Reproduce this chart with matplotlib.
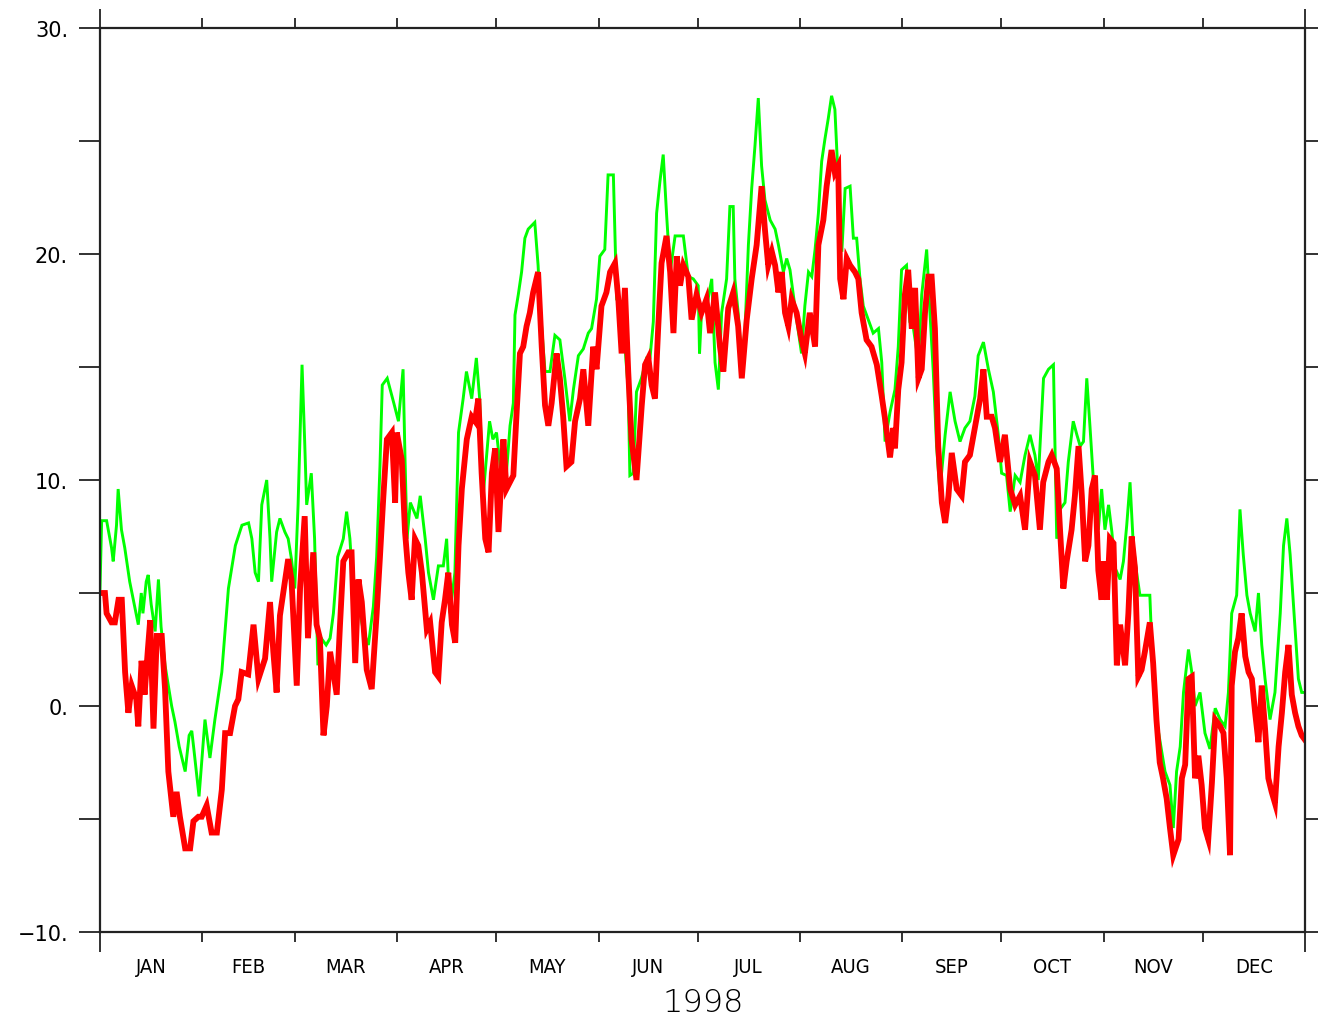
import matplotlib
matplotlib.use("Agg")
import matplotlib.pyplot as plt

# ---------------- data ----------------
month_names = ["JAN", "FEB", "MAR", "APR", "MAY", "JUN",
               "JUL", "AUG", "SEP", "OCT", "NOV", "DEC"]
month_starts = [0, 31, 59, 90, 120, 151, 181, 212, 243, 273, 304, 334, 365]
year_label = "1998"
ytick_values = [-10, -5, 0, 5, 10, 15, 20, 25, 30]
ytick_labels = ["\u221210.", "", "0.", "", "10.", "", "20.", "", "30."]

green_days = [0, 0.5, 2, 3.5, 4, 5, 5.5, 6.5, 7.5, 9, 11.6, 12.5, 13, 14, 14.6, 15.5,
              16.7, 17.7, 18.5, 19.7, 21.7, 22.7, 24, 25.8, 27, 27.8, 28.5, 30, 31.8,
              33.3, 34.8, 36.9, 38.9, 41, 43, 45, 46, 47, 48, 49, 50.5, 51.5, 52, 53.5,
              54.5, 56, 57, 58, 59, 60, 61.2, 62, 62.6, 64, 65, 66, 67, 68.5, 69.7,
              70.7, 72, 73.7, 74.7, 75.7, 76.8, 78, 79.8, 81.3, 82.8, 83.8, 84.8, 85.5,
              87, 89, 90.4, 91.8, 92.4, 93, 94, 96, 97, 98.5, 99.5, 101, 102.5, 104,
              105, 106, 107.5, 108.6, 110, 111, 112.6, 114, 115, 116, 117, 118, 119,
              120.1, 122.1, 123.1, 124.2, 125.2, 125.7, 126.7, 127.7, 128.7, 129.7,
              131.7, 132.7, 133.3, 134.8, 136.3, 137.8, 139.3, 140.8, 142.3, 143.4,
              144.9, 146.4, 147.9, 148.9, 150.4, 151.4, 152.9, 153.9, 155.5, 156,
              156.5, 158, 159, 160, 160.5, 161.5, 162.5, 164, 165.6, 166.6, 167.6,
              168.6, 169.6, 170.6, 171.6, 172.7, 174.2, 175.7, 176.7, 178.2, 179.7,
              181.2, 181.6, 182.2, 183.8, 185.3, 186.3, 187.3, 188.3, 189.8, 190.8,
              191.8, 192.3, 193.3, 194.4, 195.4, 196.4, 197.4, 198.4, 199.4, 200.4,
              201.4, 203, 204.5, 205.5, 207, 208, 209, 210, 211, 212.5, 213.5, 214.6,
              215.6, 216.6, 217.6, 218.6, 219.6, 220.6, 221.6, 222.6, 223.6, 224.7,
              225.7, 227.2, 228.2, 229.2, 230.2, 231.2, 232.7, 234.2, 235.8, 236.8,
              237.8, 239.3, 240.8, 241.8, 242.8, 244.3, 245.3, 246.4, 247.9, 248.9,
              250.4, 251.4, 252.4, 253.4, 254.4, 256, 257.5, 259, 260.5, 262, 263.5,
              265, 266, 267.6, 269.1, 270.6, 272.1, 273.1, 274.6, 275.7, 277.2, 278.7,
              280.2, 281.7, 283.2, 284.2, 285.8, 287.3, 288.8, 289.8, 290.8, 292.3,
              293.3, 294.8, 295.9, 296.9, 297.9, 298.9, 299.9, 300.9, 302.4, 303.4,
              304.4, 305.5, 306.5, 307.5, 309, 310, 311, 312, 313, 314, 315, 316.5, 318,
              319, 320, 321.6, 322.6, 324.1, 325.1, 326.1, 327.2, 328.2, 329.7, 330.7,
              331.7, 333.2, 334.7, 336.2, 337.8, 339.3, 340.8, 341.8, 342.8, 344.3,
              345.3, 346.3, 347.4, 348.4, 349.9, 350.9, 351.9, 352.9, 354.4, 355.9,
              357.5, 358.5, 359.5, 360.5, 362, 363, 364, 365]
green_vals = [5.2, 8.2, 8.2, 7.0, 6.4, 8.0, 9.6, 7.8, 7.0, 5.5, 3.6, 5.0, 4.1, 5.5, 5.8, 4.5,
              3.3, 5.6, 3.5, 1.8, 0.0, -0.7, -1.8, -2.9, -1.3, -1.1, -2.0, -4.0, -0.6,
              -2.3, -0.6, 1.5, 5.2, 7.1, 8.0, 8.1, 7.4, 5.9, 5.5, 8.9, 10.0, 7.4, 5.5, 7.7,
              8.3, 7.7, 7.4, 6.5, 5.2, 8.9, 15.1, 11.7, 8.9, 10.3, 7.4, 1.8, 3.0, 2.7, 3.0,
              4.1, 6.6, 7.4, 8.6, 7.4, 4.9, 4.7, 3.3, 2.7, 4.4, 6.6, 10.6, 14.2,
              14.5, 13.4, 12.6, 14.9, 10.9, 7.4, 9.0, 8.3, 9.3, 7.4, 5.9, 4.7, 6.2, 6.2,
              7.4, 4.1, 5.9, 12.1, 13.6, 14.8, 13.6, 15.4, 13.6, 9.2, 10.9, 12.6, 11.8,
              12.1, 9.5, 10.3, 12.4, 13.4, 17.3, 18.2, 19.2, 20.7, 21.1,
              21.4, 19.5, 17.7, 14.8, 14.8, 16.4, 16.2, 14.5, 12.6, 14.0,
              15.5, 15.8, 16.5, 16.7, 18.0, 19.9, 20.2, 23.5, 23.5, 20.7,
              18.0, 17.9, 15.9, 14.0, 10.2, 10.3, 13.9, 14.5, 15.4, 15.4, 17.0,
              21.8, 23.2, 24.4, 21.8, 19.2, 20.8, 20.8, 20.8, 19.0, 18.9,
              18.6, 15.6, 17.4, 17.7, 18.9, 15.2, 14.0, 17.4, 18.9, 22.1,
              22.1, 18.9, 17.4, 15.2, 16.7, 20.4, 22.9, 24.8, 26.9, 23.9,
              22.4, 21.5, 21.1, 20.4, 19.2, 19.8, 19.3, 18.2, 17.1, 15.6, 17.7, 19.2,
              19.0, 20.2, 21.8, 24.1, 25.1, 26.0, 27.0, 26.4, 23.3, 20.1,
              22.9, 23.0, 20.7, 20.7, 18.9, 17.7, 17.1, 16.5, 16.7, 15.2,
              11.7, 13.0, 14.0, 15.9, 19.3, 19.5, 17.0, 16.7, 15.2, 18.2,
              20.2, 17.4, 14.8, 11.5, 9.5, 12.0, 13.9, 12.6, 11.7, 12.3, 12.6,
              13.7, 15.5, 16.1, 14.9, 13.9, 12.0, 10.3, 10.2, 8.6, 10.2, 9.9,
              11.1, 12.0, 11.1, 10.0, 14.5, 14.9, 15.1, 7.4, 8.7, 9.0,
              10.8, 12.6, 12.0, 11.5, 11.7, 14.5, 12.3, 10.0, 7.8, 9.6,
              7.8, 8.9, 7.7, 6.1, 5.6, 6.4, 8.0, 9.9, 7.1, 5.9, 4.9, 4.9, 4.9,
              1.2, -0.6, -2.0, -2.9, -3.5, -5.4, -2.9, -1.8, 0.6, 2.5, 1.5,
              0.0, 0.6, -1.2, -1.9, -0.1, -0.6, -0.9, 0.6, 4.1, 4.9,
              8.7, 6.7, 4.9, 4.1, 3.3, 5.0, 2.7, 1.2, -0.6, 0.6,
              4.1, 7.1, 8.3, 6.7, 3.4, 1.2, 0.6, 0.6]

red_days = [0, 1.5, 2, 3.5, 4.5, 5.6, 6.6, 7.6, 8.6, 9.6, 11, 11.6, 12.6, 13.5, 14.5,
            15.2, 16.2, 17.2, 18.7, 19.7, 20.7, 22.2, 23.2, 24.2, 25.8, 27.3, 28.3,
            29.8, 30.8, 32.3, 33.8, 35.4, 36.9, 37.9, 39.4, 40.9, 41.9, 42.9, 44.9,
            46.5, 48, 50, 51.5, 52.5, 53.5, 54.5, 55.5, 57, 58, 59.6, 60.6, 62, 63,
            64.6, 65.6, 66.6, 67.7, 68.7, 69.7, 71.7, 72.7, 73.7, 75.2, 76.2, 77.3,
            78.3, 79.3, 80.8, 82.3, 83.8, 84.8, 85.8, 86.9, 88.4, 89.4, 89.9, 91.4,
            92.4, 93.4, 94.4, 95.4, 96.4, 97.5, 99, 100, 101.5, 102.5, 103.5, 104.5,
            105.5, 106.6, 107.6, 108.6, 109.6, 111.1, 112.6, 113.6, 114.6, 115.6,
            116.7, 117.7, 118.7, 119.7, 120.7, 122.2, 123.1, 125.2, 126.2, 127.2,
            128.2, 129.2, 130.2, 131.2, 132.7, 133.8, 134.8, 135.8, 136.8, 138.3,
            139.3, 140.3, 141.3, 142.8, 143.9, 145.4, 146.4, 147.9, 149.4, 150.4,
            151.9, 153.4, 154.5, 156, 157, 158, 159, 160, 161, 162.5, 164.1, 165.1,
            166.1, 167.1, 168.1, 169.1, 170.1, 171.6, 172.7, 173.7, 174.7, 175.7,
            176.7, 178.2, 179.2, 180.7, 182.2, 183.7, 184.8, 186.3, 187.8, 188.8,
            190.3, 191.8, 193.3, 194.4, 195.9, 197.4, 198.9, 200.4, 201.4, 202.4,
            203.5, 204.5, 205.5, 206.5, 207.5, 208.5, 209.5, 211, 212.5, 213.5, 215,
            216.6, 217.6, 219.1, 220.1, 221.6, 222.6, 223.6, 224.2, 225.2, 226.2,
            227.2, 228.7, 229.7, 230.7, 232.2, 233.7, 235.3, 236.8, 237.8, 239.3,
            240.3, 240.8, 241.8, 242.8, 243.8, 244.8, 245.9, 246.9, 247.9, 248.9,
            249.9, 250.9, 251.9, 252.9, 253.9, 255, 256, 257, 258, 259.5, 261, 262,
            263.5, 265, 266.6, 267.6, 268.6, 270.1, 271.1, 272.6, 274.1, 275.7,
            277.2, 278.7, 280.2, 281.7, 283.2, 284.7, 285.7, 287.3, 288.3, 289.8,
            290.8, 291.8, 292.8, 294.3, 295.3, 296.4, 297.4, 298.4, 299.4, 300.4,
            301.4, 302.4, 303.4, 303.9, 305, 305.9, 307, 308, 309, 310.5, 311.5,
            312.5, 313.5, 314.5, 315.5, 316.5, 318, 319, 320, 321, 322, 323.1, 324.1,
            325.1, 326.7, 327.7, 328.7, 329.7, 330.7, 331.7, 332.7, 333.7, 334.7,
            335.7, 336.8, 337.8, 339.3, 340.3, 341.3, 342.3, 342.8, 343.8, 344.8,
            345.8, 346.9, 347.9, 348.9, 349.9, 350.9, 351.9, 352.9, 353.9, 354.9,
            355.9, 357, 358, 359, 360, 361, 362, 363, 364, 365]
red_vals = [5.0, 5.0, 4.1, 3.7, 3.7, 4.7, 4.7, 1.5, -0.3, 0.9, 0.3, -0.9, 2.0, 0.5, 2.5,
            3.8, -1.0, 3.1, 3.1, 0.75, -2.9, -4.9, -3.8, -4.9, -6.3, -6.3, -5.1,
            -4.9, -4.9, -4.4, -5.6, -5.6, -3.7, -1.2, -1.2, 0.0, 0.3, 1.5, 1.4,
            3.6, 1.2, 2.1, 4.6, 2.4, 0.6, 4.0, 5.0, 6.5, 5.6, 0.9, 5.2, 8.4, 3.0,
            6.8, 3.6, 3.0, -1.3, 0.0, 2.4, 0.5, 3.6, 6.4, 6.8, 6.8, 1.9,
            5.6, 4.6, 1.6, 0.75, 4.1, 6.6, 9.2, 11.8, 12.1, 9.0, 12.1, 10.9,
            7.7, 5.9, 4.7, 7.4, 7.1, 5.9, 3.4, 3.7, 1.5, 1.3, 3.7, 4.7,
            5.9, 3.6, 2.8, 7.1, 9.6, 11.8, 12.8, 12.6, 13.6, 10.3,
            7.4, 6.8, 10.3, 11.4, 7.7, 11.8, 9.6, 10.2, 13.0, 15.6,
            15.9, 16.8, 17.4, 18.3, 19.2, 15.9, 13.3, 12.4, 13.4, 15.6,
            14.5, 12.8, 10.6, 10.8, 12.6, 13.6, 14.9, 12.4, 15.9, 14.9,
            17.7, 18.3, 19.2, 19.6, 18.0, 15.6, 18.5, 14.8, 11.8, 10.0, 13.3, 15.1,
            15.4, 14.2, 13.6, 16.8, 19.6, 20.8, 19.2, 16.5, 19.9, 18.6,
            19.5, 19.0, 17.1, 18.2, 17.4, 18.0, 16.5, 18.3, 15.9, 14.8,
            17.6, 18.3, 16.8, 14.5, 17.1, 18.9, 20.4, 23.0, 21.1, 19.5,
            20.1, 19.5, 18.3, 19.2, 17.4, 16.8, 18.0, 17.4, 16.2, 15.6, 17.4,
            15.9, 20.4, 21.5, 23.0, 24.6, 23.6, 23.9, 18.9, 18.0, 19.8,
            19.5, 19.2, 18.9, 17.4, 16.2, 15.9, 15.1, 13.7, 12.7, 11.0,
            12.3, 11.4, 14.0, 15.2, 18.2, 19.3, 16.7, 18.5, 14.5, 14.9,
            17.4, 19.0, 19.0, 16.7, 11.5, 9.0, 8.1, 9.3, 11.2, 9.6, 9.3, 10.8,
            11.1, 12.3, 13.6, 14.9, 12.8, 12.8, 12.3, 10.8, 12.0, 9.6,
            8.9, 9.3, 7.8, 10.8, 10.2, 7.8, 9.9, 10.8, 11.1, 10.5,
            7.8, 5.2, 6.4, 7.8, 9.3, 11.5, 9.3, 6.4, 7.1, 9.6,
            10.2, 6.0, 4.7, 6.4, 4.7, 7.4, 7.2, 1.8, 3.6, 1.8, 4.1,
            7.5, 6.1, 1.3, 1.6, 2.4, 3.7, 1.9, -0.6, -2.5, -3.2, -4.1, -5.4,
            -6.6, -5.9, -3.2, -2.6, 1.2, 1.3, -3.2, -2.2, -3.5, -5.4,
            -5.9, -3.4, -0.6, -0.9, -1.2, -3.2, -6.6, 0.9, 2.4, 3.0,
            4.1, 2.2, 1.5, 1.2, -0.3, -1.6, 0.9, -1.0, -3.2, -3.8,
            -4.3, -1.8, -0.3, 1.5, 2.7, 0.5, -0.3, -0.9, -1.3, -1.5]

# ---------------- figure ----------------
W, H = 1318, 1020
fig = plt.figure(figsize=(W / 100, H / 100), dpi=100)
ax = fig.add_axes([100 / W, 1 - 933 / H, (1305 - 100) / W, (933 - 29) / H])

ax.plot(green_days, green_vals, color="#00ff00", lw=2.1, solid_joinstyle="miter")
ax.plot(red_days, red_vals, color="#ff0000", lw=4.2, solid_joinstyle="miter")

ax.set_xlim(month_starts[0], month_starts[-1])
ax.set_ylim(-10, 30)

for s in ax.spines.values():
    s.set_linewidth(1.6)
    s.set_color("#222222")

# x ticks: month boundaries (major), month names at mid-month (minor)
mids = [(a + b) / 2 for a, b in zip(month_starts[:-1], month_starts[1:])]
ax.set_xticks(month_starts)
ax.set_xticklabels([""] * len(month_starts))
ax.set_xticks(mids, minor=True)
ax.set_xticklabels(month_names, minor=True, fontsize=14.5, family="DejaVu Sans",
                   fontstretch="condensed")
ax.tick_params(axis="x", which="major", direction="out", length=7, width=1.3,
               color="#222222", top=True, bottom=True)
ax.tick_params(axis="x", which="minor", length=0, pad=18)

# longer ticks at the year ends
xt = ax.xaxis.get_major_ticks()
for t in (xt[0], xt[-1]):
    t.tick1line.set_markersize(14.5)
    t.tick2line.set_markersize(14)

# y ticks
ax.set_yticks(ytick_values)
ax.set_yticklabels(ytick_labels, fontsize=15, family="DejaVu Sans")
ax.tick_params(axis="y", direction="out", length=15, width=1.3, color="#222222",
               left=True, right=True, labelright=False, pad=8)

fig.text(703 / W, 1 - 1012 / H, year_label, ha="center", va="baseline",
         fontsize=23, family="DejaVu Sans", fontweight="light", color="black")

fig.savefig("out.png", dpi=100)
